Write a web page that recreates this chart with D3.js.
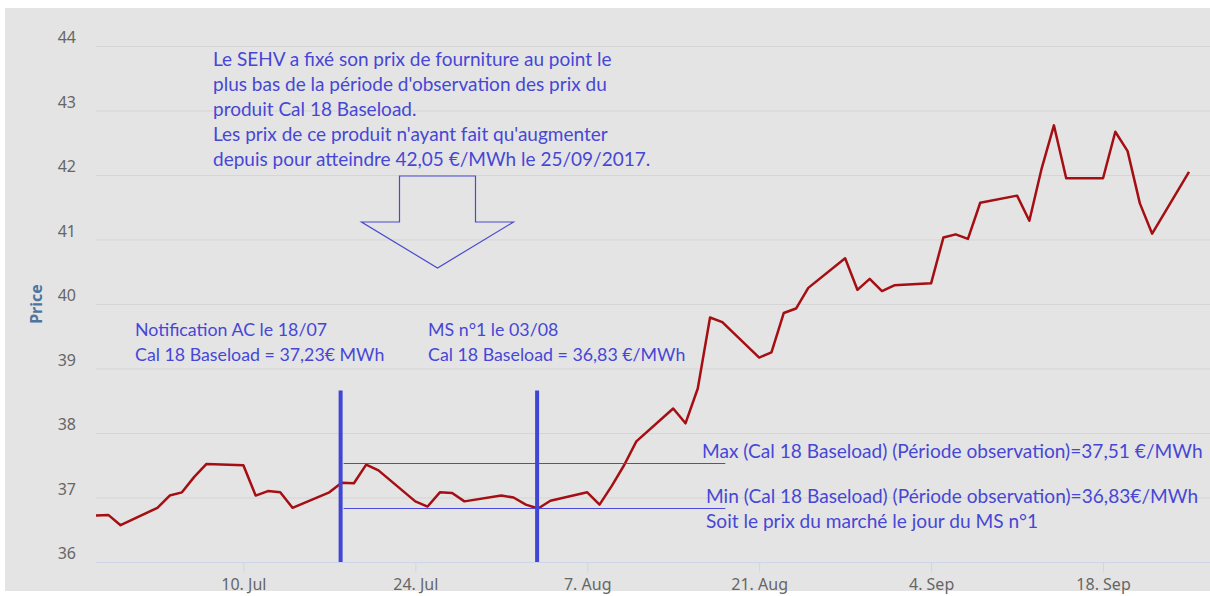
<!DOCTYPE html>
<html>
<head>
<meta charset="utf-8">
<style>
    body { margin: 0; background: #ffffff; }
    svg { display: block; }
    .grid line { stroke: #d5d5d5; }
    .tick-label { font-family: "Noto Sans", sans-serif; font-size: 16px; fill: #666666; }
    .note { font-family: Lato, "Open Sans", sans-serif; fill: #4747d6; }
</style>
</head>
<body>
<svg id="chart" width="1210" height="596"></svg>
<script src="https://cdn.jsdelivr.net/npm/d3@7"></script>
<script>
    // daily settlement prices, Cal 18 Baseload (2017)
    const dates = [
        "2017-06-28", "2017-06-29", "2017-06-30", "2017-07-03", "2017-07-04", "2017-07-05", "2017-07-06", "2017-07-07",
        "2017-07-10", "2017-07-11", "2017-07-12", "2017-07-13", "2017-07-14", "2017-07-17", "2017-07-18", "2017-07-19",
        "2017-07-20", "2017-07-21", "2017-07-24", "2017-07-25", "2017-07-26", "2017-07-27", "2017-07-28", "2017-07-31",
        "2017-08-01", "2017-08-02", "2017-08-03", "2017-08-04", "2017-08-07", "2017-08-08", "2017-08-09", "2017-08-10",
        "2017-08-11", "2017-08-14", "2017-08-15", "2017-08-16", "2017-08-17", "2017-08-18", "2017-08-21", "2017-08-22",
        "2017-08-23", "2017-08-24", "2017-08-25", "2017-08-28", "2017-08-29", "2017-08-30", "2017-08-31", "2017-09-01",
        "2017-09-04", "2017-09-05", "2017-09-06", "2017-09-07", "2017-09-08", "2017-09-11", "2017-09-12", "2017-09-13",
        "2017-09-14", "2017-09-15", "2017-09-18", "2017-09-19", "2017-09-20", "2017-09-21", "2017-09-22", "2017-09-25"
    ]
    const prices = [
        36.72, 36.73, 36.57, 36.84, 37.03, 37.08, 37.32, 37.52,
        37.50, 37.03, 37.10, 37.08, 36.84, 37.08, 37.23, 37.22,
        37.51, 37.42, 36.94, 36.86, 37.08, 37.07, 36.94, 37.03,
        37.00, 36.89, 36.83, 36.95, 37.08, 36.89, 37.18, 37.50,
        37.87, 38.38, 38.15, 38.69, 39.79, 39.72, 39.17, 39.25,
        39.86, 39.93, 40.25, 40.71, 40.22, 40.39, 40.20, 40.29,
        40.32, 41.03, 41.08, 41.01, 41.57, 41.68, 41.29, 42.10,
        42.77, 41.95, 41.95, 42.67, 42.37, 41.56, 41.09, 42.05
    ]

    const yTicks = [36, 37, 38, 39, 40, 41, 42, 43, 44]
    const xTicks = ["2017-07-10", "2017-07-24", "2017-08-07", "2017-08-21", "2017-09-04", "2017-09-18"]

    // annotation markers
    const markerDates = ["2017-07-18", "2017-08-03"]
    const markerTop = 38.66
    const rangeLevels = [37.53, 36.83]   // max / min over the observation period
    const rangeFrom = "2017-07-18"
    const rangeTo = "2017-08-18"

    const topNote = [
        "Le SEHV a fixé son prix de fourniture au point le",
        "plus bas de la période d'observation des prix du",
        "produit Cal 18 Baseload.",
        "Les prix de ce produit n'ayant fait qu'augmenter",
        "depuis pour atteindre 42,05 €/MWh le 25/09/2017."
    ]
    const noteAC = ["Notification AC le 18/07", "Cal 18 Baseload = 37,23€ MWh"]
    const noteMS = ["MS n°1 le 03/08", "Cal 18 Baseload = 36,83 €/MWh"]
    const noteMax = "Max (Cal 18 Baseload) (Période observation)=37,51 €/MWh"
    const noteMin = ["Min (Cal 18 Baseload) (Période observation)=36,83€/MWh", "Soit le prix du marché le jour du MS n°1"]

    const parse = d3.timeParse("%Y-%m-%d")
    const data = dates.map((d, i) => ({ date: parse(d), price: prices[i] }))

    const svg = d3.select("#chart")
    const plotLeft = 96, plotRight = 1210, plotTop = 46, plotBottom = 562

    // chart background
    svg.append("rect").attr("x", 5).attr("y", 8).attr("width", 1205).attr("height", 583).attr("fill", "#e4e4e4")

    const xScale = d3.scaleTime()
        .domain(d3.extent(data, d => d.date))
        .range([plotLeft, 1189])
    const yScale = d3.scaleLinear()
        .domain([36, 44])
        .range([plotBottom, plotTop])

    // horizontal grid
    svg.append("g").attr("class", "grid")
        .selectAll("line").data(yTicks.slice(1)).join("line")
        .attr("x1", plotLeft).attr("x2", plotRight)
        .attr("y1", d => yScale(d) + 0.5).attr("y2", d => yScale(d) + 0.5)

    // y labels
    svg.append("g").selectAll("text").data(yTicks).join("text")
        .attr("class", "tick-label")
        .attr("x", 76).attr("y", d => yScale(d) - 3)
        .attr("text-anchor", "end")
        .text(d => d)

    svg.append("text")
        .attr("transform", "translate(42," + (plotTop + plotBottom) / 2 + ") rotate(-90)")
        .attr("text-anchor", "middle")
        .attr("font-family", "'Noto Sans', sans-serif")
        .attr("font-size", 16).attr("font-weight", "bold")
        .attr("fill", "#4d759e")
        .text("Price")

    // x axis
    const xAxis = svg.append("g")
        .attr("transform", "translate(0," + (plotBottom + 0.5) + ")")
        .call(d3.axisBottom(xScale)
            .tickValues(xTicks.map(parse))
            .tickSize(10)
            .tickPadding(6)
            .tickFormat(d3.timeFormat("%-d. %b")))
    xAxis.select(".domain").remove()
    xAxis.selectAll(".tick line").attr("stroke", "#ccd6eb")
    xAxis.selectAll(".tick text")
        .attr("class", "tick-label")
        .attr("font-family", null).attr("font-size", null).attr("fill", null)
    xAxis.append("line")
        .attr("x1", plotLeft).attr("x2", plotRight)
        .attr("stroke", "#ccd6eb")

    // price line
    const valueline = d3.line()
        .x(d => xScale(d.date))
        .y(d => yScale(d.price))
    svg.append("path")
        .datum(data)
        .attr("d", valueline)
        .attr("fill", "none")
        .attr("stroke", "#a50e12")
        .attr("stroke-width", 2.5)
        .attr("stroke-linejoin", "round")

    // max / min lines
    svg.append("g").selectAll("line").data(rangeLevels).join("line")
        .attr("x1", xScale(parse(rangeFrom)) + 2).attr("x2", xScale(parse(rangeTo)) + 3)
        .attr("y1", d => Math.round(yScale(d)) + 0.5).attr("y2", d => Math.round(yScale(d)) + 0.5)
        .attr("stroke", "#4a4ae0").attr("stroke-width", 1)

    // vertical markers
    svg.append("g").selectAll("line").data(markerDates).join("line")
        .attr("x1", d => xScale(parse(d)) - 1).attr("x2", d => xScale(parse(d)) - 1)
        .attr("y1", yScale(markerTop)).attr("y2", plotBottom)
        .attr("stroke", "#3f45d4").attr("stroke-width", 4)

    // block arrow
    const ax = 437.5, ay = 176
    const arrowPts = [[-38, 0], [38, 0], [38, 46], [76, 46], [0, 92], [-76, 46], [-38, 46]]
    svg.append("path")
        .attr("d", "M" + arrowPts.map(p => [ax + p[0], ay + p[1]]).join("L") + "Z")
        .attr("fill", "none").attr("stroke", "#4a4ad0").attr("stroke-width", 1.2)

    function addLines(lines, x, y, size, step) {
        svg.append("g").selectAll("text").data(lines).join("text")
            .attr("class", "note")
            .attr("font-size", size)
            .attr("x", x).attr("y", (d, i) => y + i * step)
            .text(d => d)
    }
    addLines(topNote, 213, 66, 19, 25)
    addLines(noteAC, 135, 336, 17.8, 25)
    addLines(noteMS, 428, 336, 17.8, 25)
    addLines([noteMax], 702, 458, 19.1, 25)
    addLines(noteMin, 706, 503, 19.1, 25)
</script>
</body>
</html>
